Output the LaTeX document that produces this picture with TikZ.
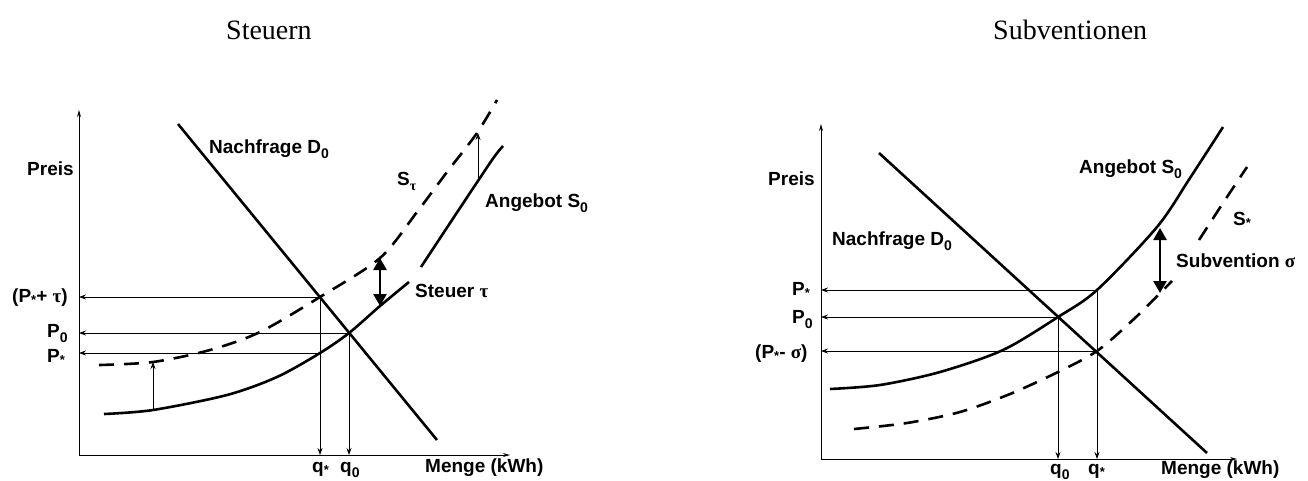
\documentclass[tikz,border=0pt]{standalone}
\usepackage{fontspec}
\setmainfont{Liberation Sans}
\newfontfamily\titlefont{Liberation Serif}
\newfontfamily\greekfont{Liberation Serif}
\usetikzlibrary{arrows.meta}
\newcommand\zsub[1]{\raisebox{-5pt}{\fontsize{14}{14}\selectfont #1}}
\newcommand\zstar{\raisebox{-2pt}{\fontsize{13}{13}\selectfont *}}
\newcommand\gr[1]{{\greekfont\bfseries #1}}
\begin{document}
\begin{tikzpicture}[x=1pt,y=-1pt,
  lbl/.style={font=\fontsize{19}{19}\selectfont\bfseries, anchor=base west, inner sep=0pt},
  ttl/.style={font=\titlefont\fontsize{28}{28}\selectfont, anchor=base west, inner sep=0pt},
  curve/.style={line width=2.6pt},
  dcurve/.style={line width=2.6pt, dash pattern=on 15pt off 10pt},
  axis/.style={line width=1pt, -{Stealth[length=7pt,width=4pt]}},
  guide/.style={line width=0.8pt, -{Stealth[length=7pt,width=5pt]}},
  shiftarrow/.style={line width=2.6pt, {Triangle[length=12pt,width=13pt]}-{Triangle[length=12pt,width=13pt]}}
]
\useasboundingbox (0,0) rectangle (1308,480);

% ================= LEFT: Steuern =================
\coordinate (LO) at (79,455);
\coordinate (LYtop) at (79,110);
\coordinate (LXend) at (510,455);
\coordinate (LD1) at (178,124);
\coordinate (LD2) at (437,440);
\coordinate (LE0) at (349,333);
\coordinate (LEt) at (320,297);
\coordinate (LEs) at (320,353);
\coordinate (LA1) at (153,410);
\coordinate (LA2) at (153,362);
\coordinate (LB1) at (478,182);
\coordinate (LB2) at (478,133);
\coordinate (LC1) at (380,306);
\coordinate (LC2) at (380,258);

\draw[axis] (LO) -- (LYtop);
\draw[axis] (LO) -- (LXend);

\draw[curve] (LD1) -- (LD2);
\draw[curve] plot[smooth] coordinates {(104,414) (153,410) (227,395) (277,377) (320,353) (349,333) (380,306) (409,282)};
\draw[curve] plot[smooth] coordinates {(421,267) (456,214) (492,160) (503,146)};
\draw[dcurve] plot[smooth] coordinates {(99,365) (153,362) (210,350) (260,332) (320,297) (380,258) (417,212) (447,172) (477,133) (497,100)};

\draw[guide] (LEt) -- (LEt -| LO);
\draw[guide] (LE0) -- (LE0 -| LO);
\draw[guide] (LEs) -- (LEs -| LO);
\draw[guide] (LEt) -- (LEt |- LO);
\draw[guide] (LE0) -- (LE0 |- LO);
\draw[guide] (LA1) -- (LA2);
\draw[guide] (LB1) -- (LB2);
\draw[shiftarrow] (LC1) -- (LC2);

\node[ttl] (tL) at (226,39) {Steuern};
\node[lbl] (preisL) at (27,175) {Preis};
\node[lbl] (pstL) at (12,302) {(P\zstar+ \gr{τ})};
\node[lbl] (p0L) at (47,337) {P\zsub{0}};
\node[lbl] (psL) at (47,362) {P\zstar};
\node[lbl] (qsL) at (312,472) {q\zstar};
\node[lbl] (q0L) at (340,472) {q\zsub{0}};
\node[lbl] (mL) at (425,472) {Menge (kWh)};
\node[lbl] (dL) at (209,153) {Nachfrage D\zsub{0}};
\node[lbl] (stL) at (397,185) {S\zsub{\gr{τ}}};
\node[lbl] (aL) at (485,207) {Angebot S\zsub{0}};
\node[lbl] (tauL) at (415,297) {Steuer \gr{τ}};

% ================= RIGHT: Subventionen =================
\coordinate (RO) at (821,459);
\coordinate (RYtop) at (821,124);
\coordinate (RXend) at (1237,459);
\coordinate (RD1) at (879,153);
\coordinate (RD2) at (1207,453);
\coordinate (RE0) at (1058,317);
\coordinate (REp) at (1097,290);
\coordinate (REs) at (1097,351);
\coordinate (RC1) at (1160,228);
\coordinate (RC2) at (1160,293);

\draw[axis] (RO) -- (RYtop);
\draw[axis] (RO) -- (RXend);

\draw[curve] (RD1) -- (RD2);
\draw[curve] plot[smooth] coordinates {(830,389) (880,385) (940,372) (1003,350) (1058,317) (1097,290) (1157,227) (1190,178) (1223,127)};
\draw[dcurve] plot[smooth] coordinates {(854,429) (907,423) (960,412) (1010,394) (1058,372) (1097,351) (1135,318) (1172,281)};
\draw[dcurve] plot[smooth] coordinates {(1199,240) (1223,203) (1247,167)};

\draw[guide] (REp) -- (REp -| RO);
\draw[guide] (RE0) -- (RE0 -| RO);
\draw[guide] (REs) -- (REs -| RO);
\draw[guide] (RE0) -- (RE0 |- RO);
\draw[guide] (REp) -- (REp |- RO);
\draw[shiftarrow] (RC1) -- (RC2);

\node[ttl] (tR) at (993,39) {Subventionen};
\node[lbl] (preisR) at (768,185) {Preis};
\node[lbl] (psR) at (792,295) {P\zstar};
\node[lbl] (p0R) at (792,323) {P\zsub{0}};
\node[lbl] (pmR) at (755,358) {(P\zstar- \gr{σ})};
\node[lbl] (dR) at (832,245) {Nachfrage D\zsub{0}};
\node[lbl] (aR) at (1079,173) {Angebot S\zsub{0}};
\node[lbl] (ssR) at (1233,225) {S\zstar};
\node[lbl] (subR) at (1176,267) {Subvention \gr{σ}};
\node[lbl] (q0R) at (1050,474) {q\zsub{0}};
\node[lbl] (qsR) at (1088,474) {q\zstar};
\node[lbl] (mR) at (1161,474) {Menge (kWh)};
\end{tikzpicture}
\end{document}
